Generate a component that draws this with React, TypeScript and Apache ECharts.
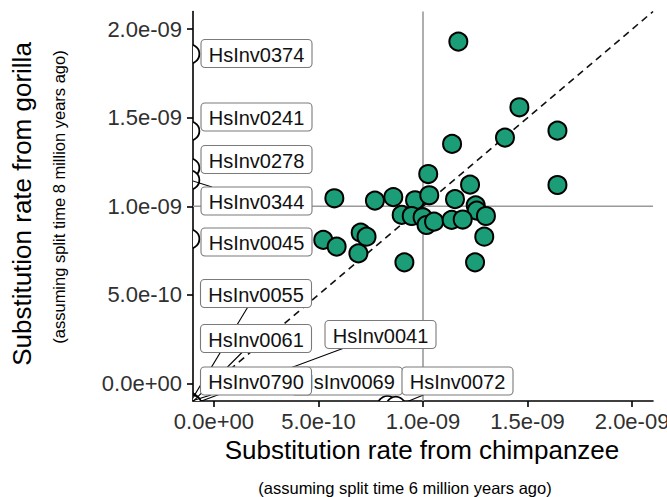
import React, { useEffect, useRef } from "react";
import * as echarts from "echarts";

// Inversions with a substitution rate on both branches
const chimpRate = [
  1.169e-9, 1.461e-9, 1.643e-9, 1.392e-9, 1.139e-9, 1.643e-9, 1.025e-9, 1.225e-9,
  0.576e-9, 0.77e-9, 0.858e-9, 0.962e-9, 1.03e-9, 1.153e-9, 1.252e-9, 1.257e-9,
  1.301e-9, 0.898e-9, 0.946e-9, 0.998e-9, 1.017e-9, 1.053e-9, 1.137e-9, 1.19e-9,
  1.293e-9, 0.523e-9, 0.587e-9, 0.702e-9, 0.73e-9, 0.691e-9, 0.911e-9, 1.249e-9,
];
const gorillaRate = [
  1.93e-9, 1.559e-9, 1.427e-9, 1.388e-9, 1.352e-9, 1.12e-9, 1.182e-9, 1.122e-9,
  1.045e-9, 1.032e-9, 1.052e-9, 1.034e-9, 1.062e-9, 1.04e-9, 1.005e-9, 0.975e-9,
  0.945e-9, 0.951e-9, 0.945e-9, 0.938e-9, 0.894e-9, 0.913e-9, 0.923e-9, 0.925e-9,
  0.828e-9, 0.81e-9, 0.772e-9, 0.851e-9, 0.828e-9, 0.734e-9, 0.683e-9, 0.683e-9,
];

// Labelled inversions that fall on the panel border
const inversionIds = [
  "HsInv0374", "HsInv0241", "HsInv0278", "HsInv0344", "HsInv0045", "HsInv0055",
  "HsInv0061", "HsInv0069", "HsInv0790", "HsInv0041", "HsInv0072",
];
const inversionChimpRate = [
  -0.115e-9, -0.115e-9, -0.115e-9, -0.115e-9, -0.115e-9, -0.115e-9,
  -0.11e-9, 0.83e-9, -0.12e-9, -0.105e-9, 0.87e-9,
];
const inversionGorillaRate = [
  1.86e-9, 1.425e-9, 1.216e-9, 1.148e-9, 0.815e-9, -0.11e-9,
  -0.115e-9, -0.125e-9, -0.105e-9, -0.12e-9, -0.13e-9,
];

const tickValues = [0, 0.5e-9, 1.0e-9, 1.5e-9, 2.0e-9];
const axisMin = -0.1e-9;
const axisMax = 2.1e-9;
const referenceRate = 1.0e-9;

// Label box placement (pixels, top-left corner) for the repelled labels
const BOX_W = 111;
const BOX_H = 28;
const labelBoxes: [number, number][] = [
  [201, 39.5],
  [201, 103],
  [201, 145.5],
  [201, 187],
  [201, 228],
  [200.5, 279.5],
  [200.5, 324.5],
  [291.5, 367],
  [200.5, 367],
  [325, 320.5],
  [402, 367],
];

const FONT = '"Liberation Sans", Arial, Helvetica, sans-serif';

function sci(v: number): string {
  if (Math.abs(v) < 1e-30) return "0.0e+00";
  const exp = Math.floor(Math.log10(Math.abs(v)) + 1e-9);
  const mant = v / Math.pow(10, exp);
  const sign = exp < 0 ? "-" : "+";
  return `${mant.toFixed(1)}e${sign}${String(Math.abs(exp)).padStart(2, "0")}`;
}

const axisCommon = {
  type: "value" as const,
  min: axisMin,
  max: axisMax,
  splitLine: { show: false },
  axisLine: { show: true, onZero: false, lineStyle: { color: "#000", width: 1.6 } },
  axisTick: {
    show: true,
    inside: false,
    length: 6,
    customValues: tickValues,
    lineStyle: { color: "#000", width: 1.6 },
  },
};

export default function App() {
  const ref = useRef<HTMLDivElement>(null);

  useEffect(() => {
    if (!ref.current) return;
    const chart = echarts.init(ref.current, undefined, { renderer: "svg" });

    const labelled = inversionChimpRate.map((x, i) => [x, inversionGorillaRate[i]]);

    chart.setOption({
      animation: false,
      grid: {
        left: 193,
        right: 14,
        top: 11.5,
        bottom: 96,
        containLabel: false,
        outerBoundsMode: "none",
      },
      xAxis: {
        ...axisCommon,
        axisLabel: {
          customValues: tickValues,
          formatter: (v: number) => sci(v),
          fontSize: 22,
          fontFamily: FONT,
          color: "#303030",
          margin: 9,
        },
      },
      yAxis: {
        ...axisCommon,
        axisLabel: {
          customValues: tickValues,
          formatter: (v: number) => sci(v),
          fontSize: 22,
          fontFamily: FONT,
          color: "#303030",
          margin: 11,
        },
      },
      graphic: [
        {
          type: "text",
          x: 422,
          y: 450,
          style: {
            text: "Substitution rate from chimpanzee",
            font: `26px ${FONT}`,
            fill: "#000",
            align: "center",
            verticalAlign: "middle",
            textAlign: "center",
            textVerticalAlign: "middle",
          },
        },
        {
          type: "text",
          x: 405,
          y: 488,
          style: {
            text: "(assuming split time 6 million years ago)",
            font: `16.5px ${FONT}`,
            fill: "#000",
            align: "center",
            verticalAlign: "middle",
            textAlign: "center",
            textVerticalAlign: "middle",
          },
        },
        {
          type: "text",
          x: 22,
          y: 204,
          rotation: Math.PI / 2,
          style: {
            text: "Substitution rate from gorilla",
            font: `26px ${FONT}`,
            fill: "#000",
            align: "center",
            verticalAlign: "middle",
            textAlign: "center",
            textVerticalAlign: "middle",
          },
        },
        {
          type: "text",
          x: 59,
          y: 197,
          rotation: Math.PI / 2,
          style: {
            text: "(assuming split time 8 million years ago)",
            font: `16.5px ${FONT}`,
            fill: "#000",
            align: "center",
            verticalAlign: "middle",
            textAlign: "center",
            textVerticalAlign: "middle",
          },
        },
      ],
      series: [
        {
          type: "line",
          silent: true,
          symbol: "none",
          z: 1,
          data: [
            [referenceRate, axisMin],
            [referenceRate, axisMax],
          ],
          lineStyle: { color: "#9a9a9a", width: 1.6 },
        },
        {
          type: "line",
          silent: true,
          symbol: "none",
          z: 1,
          data: [
            [axisMin, referenceRate],
            [axisMax, referenceRate],
          ],
          lineStyle: { color: "#9a9a9a", width: 1.6 },
        },
        {
          // y = x
          type: "line",
          silent: true,
          symbol: "none",
          z: 1,
          data: [
            [axisMin, axisMin],
            [axisMax, axisMax],
          ],
          lineStyle: { color: "#111", width: 1.6, type: [7, 5] },
        },
        {
          // labelled inversions (hollow points, clipped by the panel)
          type: "custom",
          clip: true,
          silent: true,
          z: 2,
          encode: { x: 0, y: 1 },
          data: labelled,
          renderItem: (_params: any, api: any) => {
            const p = api.coord([api.value(0), api.value(1)]);
            return {
              type: "circle",
              shape: { cx: p[0], cy: p[1], r: 9.5 },
              style: { fill: "#fff", stroke: "#000", lineWidth: 1.8 },
            };
          },
        },
        {
          type: "scatter",
          z: 3,
          symbolSize: 18,
          data: chimpRate.map((x, i) => [x, gorillaRate[i]]),
          itemStyle: { color: "#1b9e77", borderColor: "#000", borderWidth: 2, opacity: 1 },
        },
        {
          // segments from labelled points to their boxes
          type: "custom",
          clip: true,
          silent: true,
          z: 4,
          encode: { x: 0, y: 1 },
          data: labelled,
          renderItem: (params: any, api: any) => {
            const i = params.dataIndex;
            const p = api.coord([api.value(0), api.value(1)]);
            const [bx, by] = labelBoxes[i];
            const cx = bx + BOX_W / 2;
            const cy = by + BOX_H / 2;
            const dx = p[0] - cx;
            const dy = p[1] - cy;
            const s = Math.min(
              BOX_W / 2 / Math.max(Math.abs(dx), 1e-6),
              BOX_H / 2 / Math.max(Math.abs(dy), 1e-6)
            );
            const ex = cx + dx * s;
            const ey = cy + dy * s;
            const len = Math.hypot(p[0] - ex, p[1] - ey);
            if (s >= 1 || len < 21) return { type: "group", children: [] };
            return {
              type: "line",
              shape: { x1: p[0], y1: p[1], x2: ex, y2: ey },
              style: { stroke: "#000", lineWidth: 1.1 },
            };
          },
        },
        {
          // label boxes
          type: "custom",
          clip: true,
          silent: true,
          z: 5,
          encode: { x: 0, y: 1 },
          data: labelled,
          renderItem: (params: any) => {
            const i = params.dataIndex;
            const [bx, by] = labelBoxes[i];
            return {
              type: "group",
              children: [
                {
                  type: "rect",
                  shape: { x: bx, y: by, width: BOX_W, height: BOX_H, r: 4 },
                  style: { fill: "#fff", stroke: "#7a7a7a", lineWidth: 1.1 },
                },
                {
                  type: "text",
                  style: {
                    x: bx + BOX_W / 2,
                    y: by + BOX_H / 2 + 1,
                    text: inversionIds[i],
                    font: `20px ${FONT}`,
                    fill: "#111",
                    align: "center",
                    verticalAlign: "middle",
                    textAlign: "center",
                    textVerticalAlign: "middle",
                  },
                },
              ],
            };
          },
        },
      ],
    });

    return () => chart.dispose();
  }, []);

  return (
    <div
      ref={ref}
      style={{ position: "fixed", left: 0, top: 0, width: 667, height: 497, background: "#fff" }}
    />
  );
}
